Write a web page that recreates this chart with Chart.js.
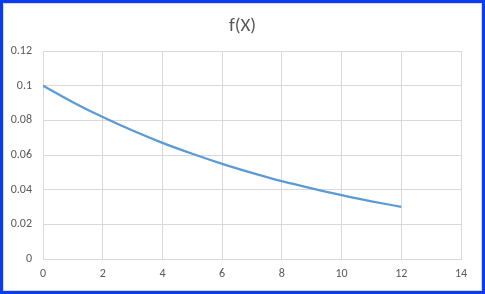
<!DOCTYPE html>
<html>
<head>
<meta charset="utf-8">
<script src="https://cdn.jsdelivr.net/npm/chart.js@4"></script>
<style>
  html, body { margin: 0; padding: 0; background: #fff; }
  #wrap { width: 485px; height: 294px; }
</style>
</head>
<body>
<div id="wrap"><canvas id="chart" width="485" height="294"></canvas></div>
<script>
const xValues = [0, 1, 2, 3, 4, 5, 6, 7, 8, 9, 10, 11, 12];
const fValues = [0.1, 0.0905, 0.0819, 0.0741, 0.067, 0.0607, 0.0549, 0.0497, 0.0449, 0.0407, 0.0368, 0.0333, 0.0301];
const xTicks = [0, 2, 4, 6, 8, 10, 12, 14];
const yTicks = [0, 0.02, 0.04, 0.06, 0.08, 0.1, 0.12];

const frame = {
  id: 'frame',
  afterDraw(chart) {
    const ctx = chart.ctx;
    ctx.save();
    ctx.strokeStyle = '#d9d9d9';
    ctx.lineWidth = 1;
    ctx.strokeRect(3.5, 3.5, chart.width - 7, chart.height - 7);
    ctx.strokeStyle = '#0b3cf5';
    ctx.lineWidth = 3;
    ctx.strokeRect(1.5, 1.5, chart.width - 3, chart.height - 3);
    ctx.restore();
  }
};

const font = { family: 'Calibri, Carlito, "Liberation Sans", sans-serif', size: 12 };

new Chart(document.getElementById('chart').getContext('2d'), {
  type: 'scatter',
  data: {
    datasets: [{
      label: 'f(X)',
      data: xValues.map((x, i) => ({ x, y: fValues[i] })),
      showLine: true,
      borderColor: '#5b9bd5',
      borderWidth: 2.25,
      pointRadius: 0,
      cubicInterpolationMode: 'monotone',
      fill: false
    }]
  },
  options: {
    responsive: false,
    animation: false,
    layout: { padding: 0 },
    plugins: {
      legend: { display: false },
      tooltip: { enabled: false },
      title: {
        display: true,
        text: 'f(X)',
        color: '#595959',
        font: { family: font.family, size: 19, weight: 'normal' },
        padding: { top: 15, bottom: 13.2 }
      }
    },
    scales: {
      x: {
        type: 'linear',
        min: 0, max: 14,
        afterBuildTicks: axis => { axis.ticks = xTicks.map(v => ({ value: v })); },
        afterFit: axis => { axis.height = 35; },
        grid: { color: '#d9d9d9', drawTicks: false },
        border: { color: '#d9d9d9' },
        ticks: { color: '#595959', font, padding: 8, maxRotation: 0 }
      },
      y: {
        min: 0, max: 0.12,
        afterBuildTicks: axis => { axis.ticks = yTicks.map(v => ({ value: v })); },
        afterFit: axis => { axis.width = 43; },
        grid: { color: '#d9d9d9', drawTicks: false },
        border: { color: '#d9d9d9' },
        ticks: { color: '#595959', font, padding: 11, callback: v => String(v) }
      },
      spacer: {
        position: 'right',
        min: 0, max: 1,
        afterFit: axis => { axis.width = 24; },
        grid: { display: false, drawOnChartArea: false },
        border: { display: false },
        ticks: { display: false }
      }
    }
  },
  plugins: [frame]
});
</script>
</body>
</html>
